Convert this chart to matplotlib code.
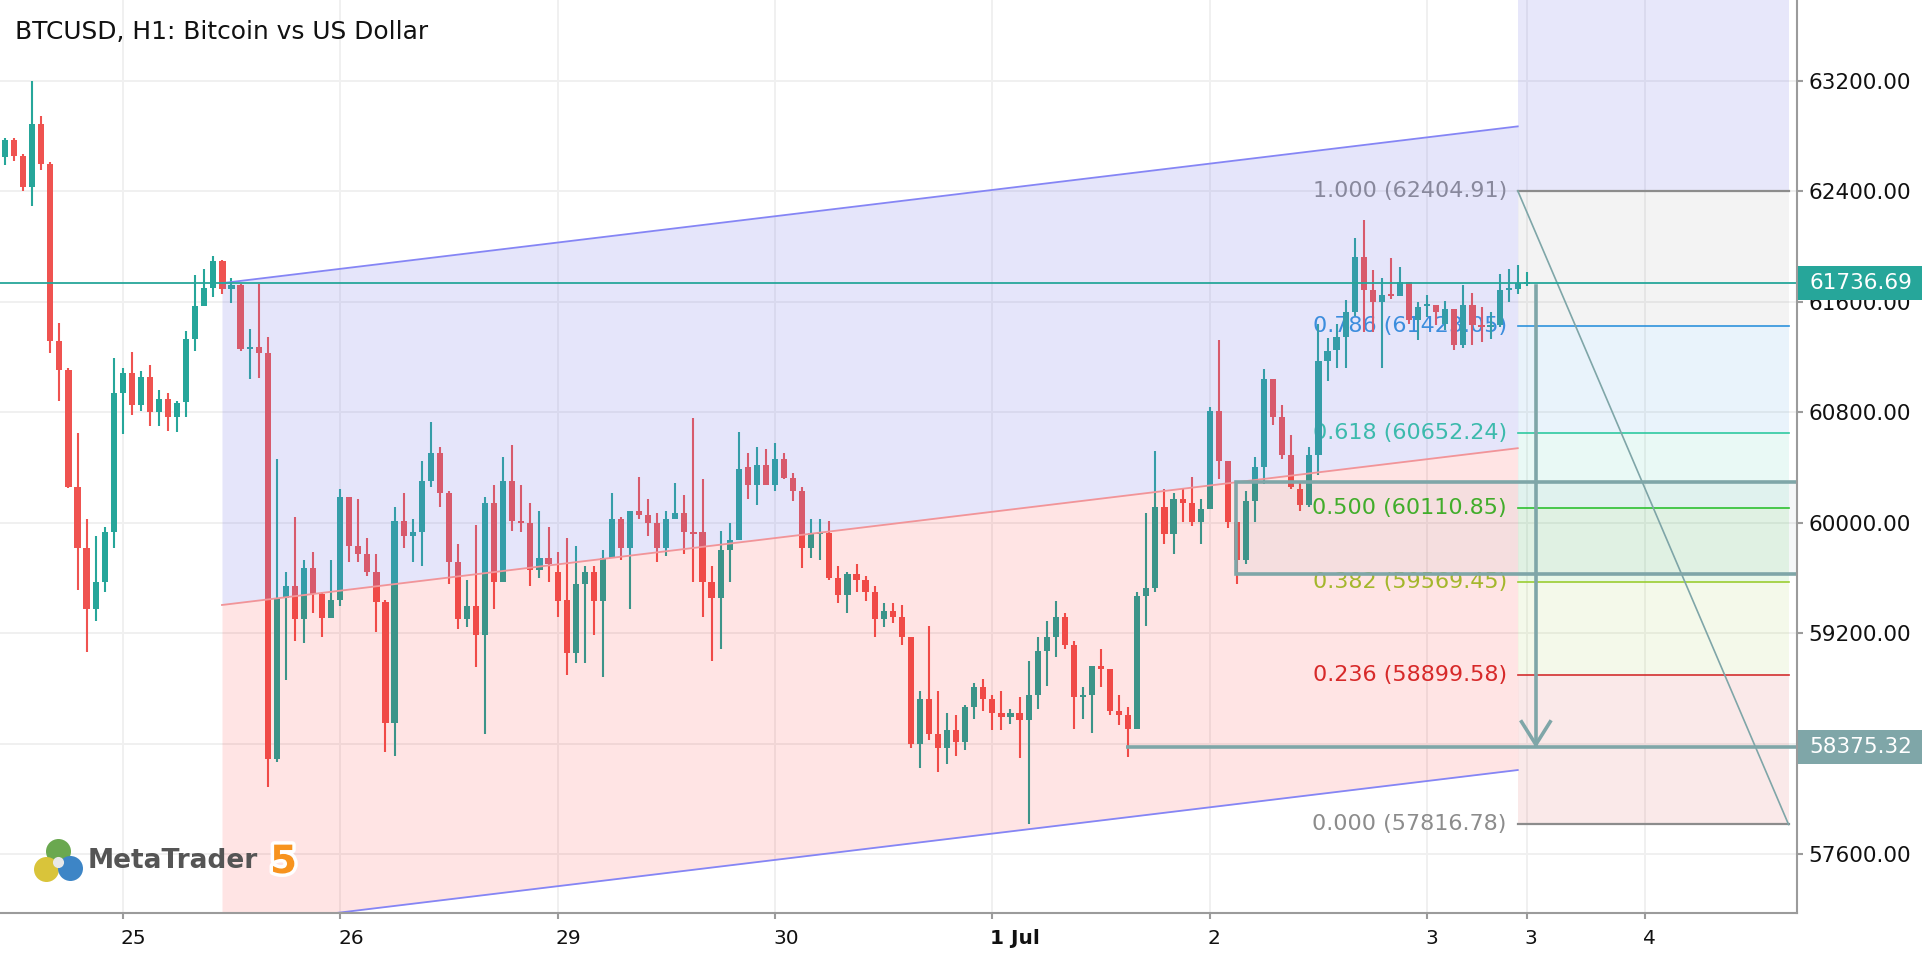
import numpy as np
import matplotlib.pyplot as plt
import matplotlib.transforms as mtransforms
import matplotlib.patheffects as pe
from matplotlib import font_manager
from matplotlib.patches import Rectangle

# hourly bars, bar 0 = 25 Jun 00:00 (weekend skipped)
first_bar = -13
opens = [62647, 62776, 62660, 62429, 62889, 62601, 61317, 61105, 60261, 59817,
         59374, 59572, 59933, 60943, 61082, 60857, 61055, 60800, 60896, 60767,
         60873, 61330, 61571, 61704, 61893, 61694, 61720, 61257, 61277, 61231,
         58288, 59458, 59542, 59303, 59673, 59489, 59315, 59444, 60191, 59833,
         59776, 59644, 59429, 58555, 60017, 59904, 59933, 60303, 60504, 60217,
         59718, 59303, 59398, 59188, 60146, 59575, 60303, 60017, 60003, 59661,
         59745, 59644, 59444, 59059, 59558, 59644, 59432, 59745, 60031, 59816,
         60088, 60060, 60003, 59816, 60031, 60074, 59931, 59931, 59575, 59460,
         59802, 59873, 60404, 60275, 60418, 60275, 60461, 60327, 60232, 59819,
         59921, 59928, 59599, 59475, 59630, 59587, 59501, 59303, 59360, 59317,
         59174, 58400, 58727, 58472, 58371, 58500, 58414, 58670, 58813, 58727,
         58627, 58598, 58627, 58570, 58756, 59071, 59173, 59320, 59115, 58738,
         58752, 58966, 58940, 58638, 58609, 58508, 59470, 59528, 60118, 59919,
         60176, 60147, 60006, 60104, 60810, 60450, 60006, 59732, 60162, 60406,
         61040, 60766, 60493, 60248, 60133, 60493, 61170, 61249, 61348, 61527,
         61927, 61685, 61600, 61653, 61644, 61745, 61467, 61571, 61581, 61440,
         61552, 61285, 61581, 61430, 61418, 61430, 61685, 61695, 61730]
highs = [62786, 62786, 62670, 63203, 62945, 62614, 61446, 61125, 60651, 60029,
         59903, 59973, 61197, 61125, 61241, 61098, 61141, 60966, 60939, 60883,
         61389, 61793, 61836, 61936, 61906, 61773, 61733, 61403, 61733, 61346,
         60461, 59644, 60043, 59730, 59787, 59501, 59730, 60246, 60191, 60174,
         59888, 59773, 59443, 60117, 60217, 60031, 60447, 60733, 60547, 60232,
         59845, 59587, 59988, 60189, 60275, 60475, 60561, 60275, 60146, 60088,
         59974, 59787, 59888, 59830, 59687, 59687, 59802, 60217, 60045, 60088,
         60332, 60174, 60074, 60088, 60289, 60203, 60762, 60318, 59687, 59945,
         60002, 60661, 60504, 60547, 60532, 60576, 60504, 60361, 60260, 60031,
         60031, 60017, 59685, 59644, 59702, 59616, 59544, 59417, 59417, 59403,
         59174, 58785, 59257, 58785, 58627, 58612, 58684, 58842, 58871, 58756,
         58785, 58656, 58742, 58999, 59171, 59290, 59437, 59349, 59142, 58810,
         58966, 59084, 58940, 58753, 58667, 59499, 60075, 60522, 60248, 60219,
         60248, 60334, 60176, 60838, 61328, 60450, 60006, 60234, 60478, 61112,
         61040, 60853, 60637, 60291, 60550, 61443, 61342, 61442, 61612, 62061,
         62191, 61830, 61770, 61915, 61855, 61745, 61600, 61653, 61581, 61610,
         61552, 61726, 61668, 61564, 61527, 61799, 61842, 61870, 61815]
lows = [62588, 62621, 62402, 62296, 62555, 61231, 60883, 60251, 59516, 59069,
        59288, 59503, 59820, 60641, 60784, 60810, 60701, 60701, 60668, 60658,
        60767, 61247, 61571, 61634, 61661, 61595, 61244, 61042, 61052, 58085,
        58271, 58861, 59147, 59131, 59346, 59171, 59315, 59401, 59718, 59718,
        59618, 59214, 58340, 58312, 59816, 59718, 59690, 60260, 60119, 59561,
        59231, 59245, 58959, 58472, 59374, 59575, 59945, 59931, 59546, 59604,
        59575, 59317, 58901, 58987, 58987, 59188, 58887, 59745, 59733, 59374,
        60031, 59902, 59718, 59761, 60031, 59776, 59575, 59317, 59002, 59088,
        59575, 59873, 60174, 60131, 60275, 60232, 60318, 60162, 59675, 59747,
        59733, 59589, 59417, 59346, 59503, 59432, 59174, 59245, 59274, 59117,
        58371, 58228, 58429, 58200, 58257, 58314, 58357, 58584, 58641, 58500,
        58500, 58541, 58300, 57816.78, 58656, 58822, 59027, 59085, 58508, 58580,
        58479, 58810, 58609, 58537, 58306, 58508, 59254, 59499, 59847, 59775,
        60006, 59977, 59847, 60104, 60320, 59962, 59559, 59703, 60006, 60279,
        60709, 60464, 60248, 60090, 60118, 60349, 61026, 61120, 61120, 61500,
        61382, 61382, 61120, 61624, 61644, 61442, 61321, 61491, 61430, 61400,
        61249, 61270, 61285, 61309, 61333, 61418, 61600, 61660, 61715]
closes = [62776, 62660, 62429, 62889, 62601, 61320, 61105, 60261, 59820, 59374,
          59572, 59933, 60943, 61082, 60857, 61055, 60800, 60896, 60767, 60866,
          61330, 61571, 61704, 61893, 61694, 61720, 61257, 61277, 61231, 58288,
          59458, 59542, 59303, 59673, 59489, 59315, 59444, 60191, 59833, 59776,
          59644, 59429, 58555, 60017, 59904, 59933, 60303, 60504, 60217, 59718,
          59303, 59398, 59188, 60146, 59575, 60303, 60017, 60003, 59661, 59745,
          59704, 59432, 59059, 59558, 59644, 59432, 59745, 60031, 59816, 60088,
          60060, 60003, 59816, 60031, 60074, 59931, 59917, 59575, 59460, 59802,
          59873, 60389, 60275, 60418, 60275, 60461, 60327, 60234, 59819, 59928,
          59933, 59604, 59475, 59630, 59589, 59503, 59303, 59360, 59317, 59174,
          58400, 58727, 58472, 58371, 58500, 58414, 58670, 58813, 58727, 58627,
          58598, 58627, 58570, 58756, 59071, 59173, 59320, 59115, 58738, 58752,
          58966, 58940, 58638, 58609, 58508, 59470, 59528, 60118, 59919, 60176,
          60147, 60006, 60104, 60810, 60450, 60006, 59732, 60162, 60406, 61040,
          60766, 60493, 60262, 60133, 60493, 61170, 61242, 61348, 61527, 61927,
          61685, 61600, 61653, 61644, 61745, 61467, 61564, 61581, 61527, 61552,
          61285, 61581, 61430, 61418, 61430, 61685, 61695, 61736.69, 61736.69]

tick_bars = [0, 24, 48, 72, 96, 120, 144, 155, 168]
tick_labels = ['25', '26', '29', '30', '1 Jul', '2', '3', '3', '4']
price_ticks = [57600, 58400, 59200, 60000, 60800, 61600, 62400, 63200]

last_price = 61736.69
target_price = 58375.32

# equidistant channel (top line anchors, distance to middle and bottom)
channel_bars = [10.95, 154]
channel_top = [61736, 62871]
channel_step = 2330

# fibonacci retracement
fib_bars = [154, 183.9]
fib_high = 62404.91
fib_low = 57816.78
fib_ratios = [1.0, 0.786, 0.618, 0.5, 0.382, 0.236, 0.0]
fib_colors = ['#8c8c8c', '#2e92dc', '#2ec9a0', '#28c428', '#9acd32', '#d32f2f', '#8c8c8c']

# rectangle zone and arrow
zone_left = 122.86
zone_prices = [59630, 60300]
arrow_bar = 156
arrow_top = 61713
target_start = 110.8

bull = '#26a69a'
bear = '#ef5350'
tool = '#7fa6a8'

names = {f.name for f in font_manager.fontManager.ttflist}
narrow = 'Liberation Sans Narrow' if 'Liberation Sans Narrow' in names else None

fig = plt.figure(figsize=(19.22, 9.6), dpi=100)
ax = fig.add_axes([0, 47 / 960, 1797 / 1922, 913 / 960])

x = np.arange(len(opens)) + first_bar
o = np.array(opens, dtype=float)
h = np.array(highs, dtype=float)
l = np.array(lows, dtype=float)
c = np.array(closes, dtype=float)
up = c >= o
cols = np.where(up, bull, bear)

ax.vlines(x, l, h, colors=cols, lw=1.5, zorder=2)
body = np.maximum(np.abs(c - o), 14)
ax.bar(x, body, bottom=np.minimum(o, c), width=0.68, color=cols, lw=0, zorder=2)

# channel
cx = np.array(channel_bars)
top = np.array(channel_top, dtype=float)
mid = top - channel_step
bot = top - 2 * channel_step
ax.fill_between(cx, mid, top, color=(0.48, 0.48, 0.9), alpha=0.19, lw=0, zorder=3)
ax.fill_between(cx, bot, mid, color=(1.0, 0.0, 0.0), alpha=0.105, lw=0, zorder=3)
ax.plot(cx, top, color='#8585f5', lw=1.3, zorder=3.5)
ax.plot(cx, bot, color='#8585f5', lw=1.3, zorder=3.5)
ax.plot(cx, mid, color='#f29498', lw=1.3, zorder=3.5)

# fibonacci zones and levels
fx = np.array(fib_bars)
levels = [fib_low + r * (fib_high - fib_low) for r in fib_ratios]
ax.fill_between(fx, fib_high, 64500, color=(0.48, 0.48, 0.9), alpha=0.18, lw=0, zorder=1)
for i in range(len(levels) - 1):
    ax.fill_between(fx, levels[i + 1], levels[i], color=fib_colors[i], alpha=0.1, lw=0, zorder=1)
for r, p, col in zip(fib_ratios, levels, fib_colors):
    lw = 1.6 if col == '#8c8c8c' else 1.2
    ax.plot(fx, [p, p], color=col, lw=lw, zorder=3.5)
    ax.text(152.8, p, f'{r:.3f} ({p:.2f})', color=col, fontsize=16, ha='right', va='center', zorder=1.5)
ax.plot(fx, [fib_high, fib_low], color=tool, lw=1.2, zorder=3.6)

# last price line
ax.axhline(last_price, color=bull, lw=1.3, zorder=4)

# zone rectangle, target line and arrow
ax.add_patch(Rectangle((zone_left, zone_prices[0]), 100, zone_prices[1] - zone_prices[0],
                       facecolor=(0.45, 0.6, 0.62, 0.07), edgecolor=tool, lw=2.6, zorder=4))
ax.hlines(target_price, target_start, 200, color=tool, lw=2.6, zorder=4)
ax.plot([arrow_bar, arrow_bar], [arrow_top, target_price + 20], color=tool, lw=2.6, zorder=4)
ax.plot([arrow_bar - 1.58, arrow_bar, arrow_bar + 1.58],
        [target_price + 185, target_price + 20, target_price + 185],
        color=tool, lw=2.6, zorder=4, solid_joinstyle='miter')

ax.set_xlim(-13.557, 184.83)
ax.set_ylim(57176, 63786)

# axes styling
for s in ['left', 'top']:
    ax.spines[s].set_visible(False)
for s in ['right', 'bottom']:
    ax.spines[s].set_color('#9b9b9b')
    ax.spines[s].set_linewidth(1.5)
    ax.spines[s].set_zorder(6)
ax.yaxis.tick_right()
ax.set_yticks(price_ticks)
ax.set_yticklabels([f'{p:.2f}' for p in price_ticks])
ax.set_xticks(tick_bars)
xlab_font = dict(family=narrow, size=17) if narrow else dict(size=14.5)
ax.set_xticklabels(tick_labels, ha='left', fontdict=xlab_font)
for t in ax.get_xticklabels():
    if t.get_text() == '1 Jul':
        t.set_fontweight('bold')
ax.tick_params(axis='y', length=4.5, width=1.5, color='#9b9b9b', pad=4, labelsize=15.5, labelcolor='#111111')
ax.tick_params(axis='x', length=4.5, width=1.5, color='#9b9b9b', pad=7, labelcolor='#111111')
offset = mtransforms.ScaledTranslation(-2 / 100, 0, fig.dpi_scale_trans)
for t in ax.get_xticklabels():
    t.set_transform(t.get_transform() + offset)

ax.grid(True, color='#f0f0f0', lw=1.4)
ax.set_axisbelow(True)

# price labels on the right axis
blend = mtransforms.blended_transform_factory(ax.transAxes, ax.transData)
for p, col in [(last_price, bull), (target_price, tool)]:
    ax.add_patch(Rectangle((1.0005, p - 124), 0.07, 248, transform=blend, facecolor=col,
                           edgecolor='none', clip_on=False, zorder=10))
    ax.text(1.0067, p, f'{p:.2f}', transform=blend, color='white', fontsize=15.5,
            ha='left', va='center', clip_on=False, zorder=11)

fig.text(15 / 1922, 1 - 32 / 960, 'BTCUSD, H1: Bitcoin vs US Dollar', fontsize=17.9,
         color='#111111', ha='left', va='center')

# MetaTrader 5 mark
for px, py, col, ms in [(58, 851, '#6aa84f', 18), (46, 869, '#d9c43a', 18),
                        (70, 868, '#3d85c6', 18), (58, 862, '#e8e8e8', 8)]:
    ax.plot([px / 1922], [1 - py / 960], 'o', color=col, ms=ms, transform=fig.transFigure,
            clip_on=False, zorder=12, mec='none')
logo_font = dict(family=narrow, size=26) if narrow else dict(size=19)
five_font = dict(family=narrow, size=36) if narrow else dict(size=28)
fig.text(88 / 1922, 1 - 861 / 960, 'MetaTrader', color='#555555', fontweight='bold',
         ha='left', va='center', **logo_font)
fig.text(270 / 1922, 1 - 862 / 960, '5', color='#f7931e', fontweight='bold', ha='left', va='center',
         path_effects=[pe.withStroke(linewidth=5, foreground='white')], **five_font)

fig.savefig('out.png', dpi=100)
